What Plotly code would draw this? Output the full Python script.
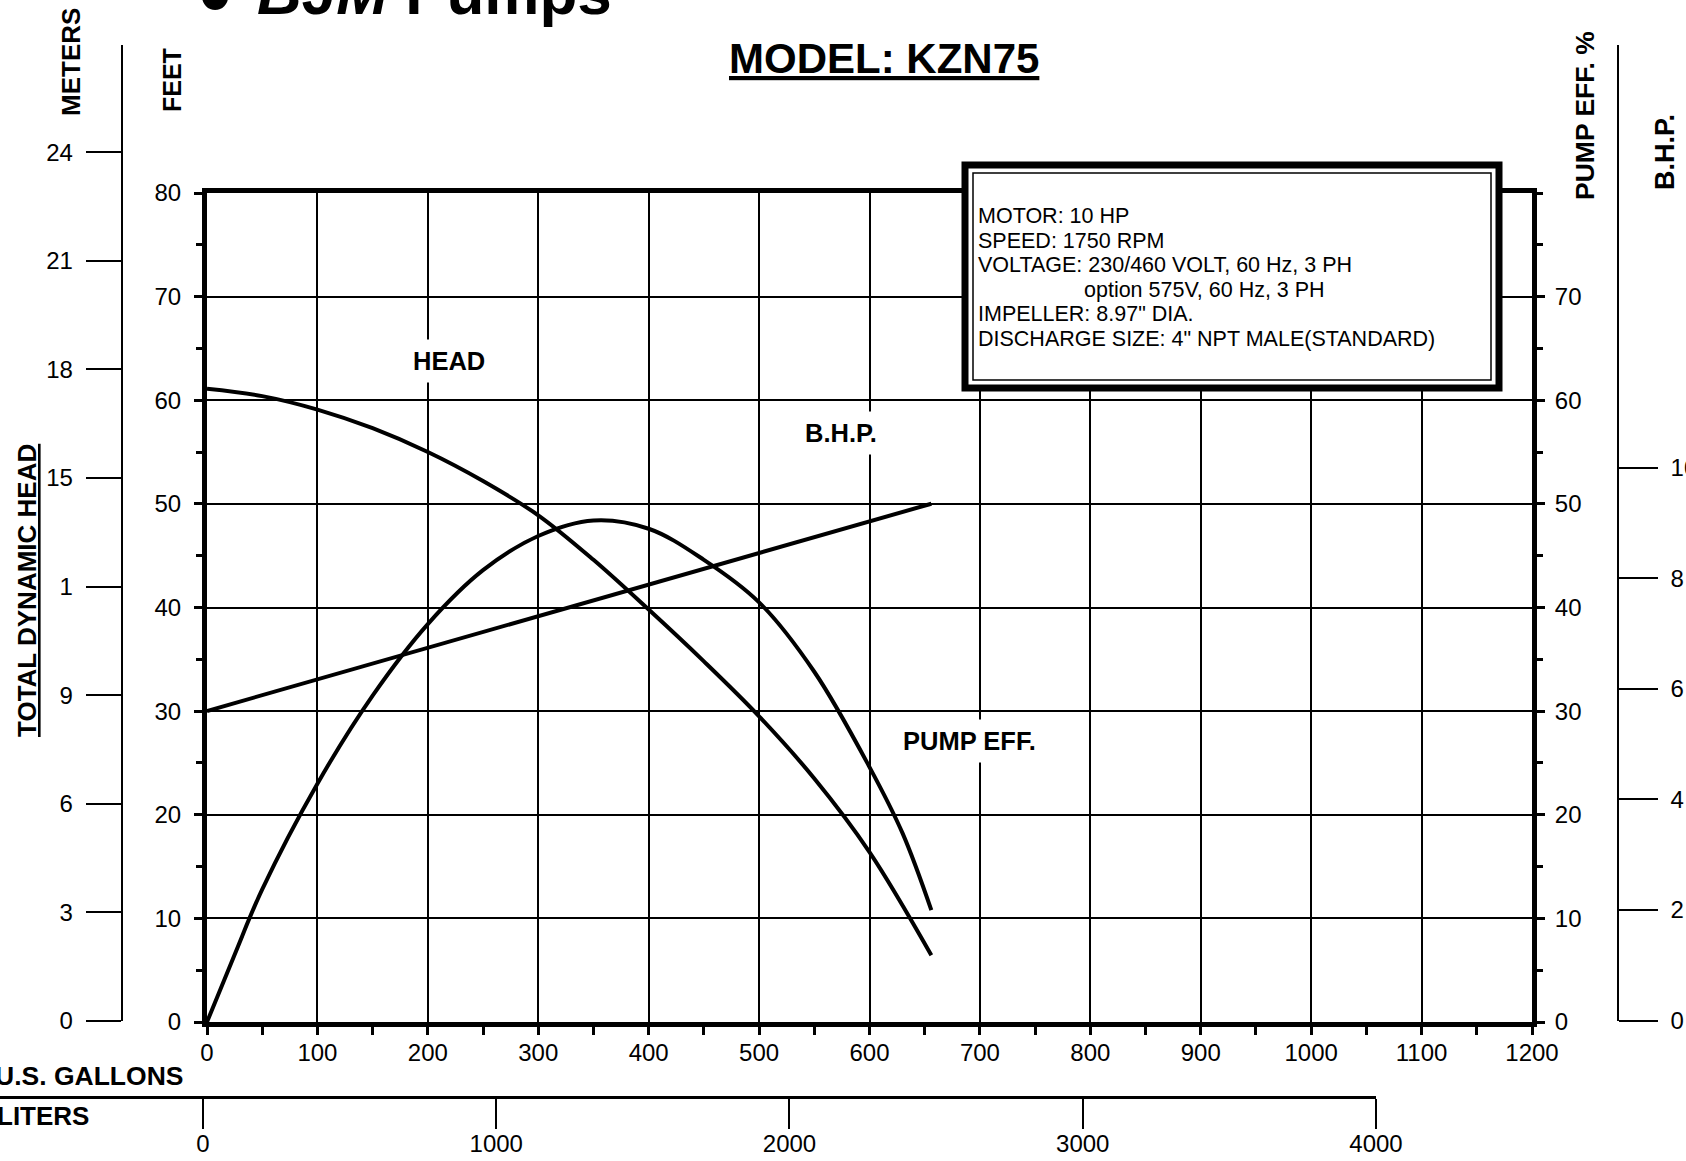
import plotly.graph_objects as go

W, H = 1686, 1161

# ---------------- data ----------------
head_gpm = [0, 50, 100, 150, 200, 250, 300, 350, 400, 450, 500, 550, 600, 656]
head_ft = [61.1, 60.4, 59.1, 57.3, 55.0, 52.2, 48.9, 44.6, 39.8, 34.8, 29.5, 23.5, 16.4, 6.45]

eff_gpm = [0, 25, 50, 100, 150, 200, 250, 300, 350, 400, 450, 500, 550, 600, 630, 656]
eff_pct = [0, 6.5, 12.8, 23.0, 31.5, 38.4, 43.6, 46.9, 48.4, 47.6, 44.6, 40.5, 33.8, 24.6, 18.2, 10.8]

bhp_gpm = [0, 656]
bhp_hp = [5.60, 9.35]

gal_ticks = list(range(0, 1201, 100))
feet_ticks = list(range(0, 81, 10))
eff_ticks = list(range(0, 71, 10))
meter_ticks = [0, 3, 6, 9, 12, 15, 18, 21, 24]
meter_labels = ["0", "3", "6", "9", "1", "15", "18", "21", "24"]
bhp_ticks = [0, 2, 4, 6, 8, 10]
bhp_labels = ["0", "2", "4", "6", "8", "10"]
liter_ticks = [0, 1000, 2000, 3000, 4000]

info_lines = [
    "MOTOR: 10 HP",
    "SPEED: 1750 RPM",
    "VOLTAGE: 230/460 VOLT, 60 Hz, 3 PH",
    "option 575V, 60 Hz, 3 PH",
    "IMPELLER: 8.97\" DIA.",
    "DISCHARGE SIZE: 4\" NPT MALE(STANDARD)",
]

# ---------------- geometry helpers (pixels -> paper) ----------------
def px(x):
    return x / W

def py(y):
    return 1 - y / H

FONT = "Arial, Liberation Sans, sans-serif"
BLACK = "black"

fig = go.Figure()

fig.add_trace(go.Scatter(x=head_gpm, y=head_ft, mode="lines", line=dict(color=BLACK, width=4, shape="spline"),
                         xaxis="x", yaxis="y", hoverinfo="skip", showlegend=False))
fig.add_trace(go.Scatter(x=eff_gpm, y=eff_pct, mode="lines", line=dict(color=BLACK, width=4, shape="spline"),
                         xaxis="x", yaxis="y2", hoverinfo="skip", showlegend=False))
fig.add_trace(go.Scatter(x=bhp_gpm, y=bhp_hp, mode="lines", line=dict(color=BLACK, width=4),
                         xaxis="x4", yaxis="y4", hoverinfo="skip", showlegend=False))
# carriers for the meters and liters scales
fig.add_trace(go.Scatter(x=[0], y=[0], mode="markers", marker=dict(opacity=0, size=1),
                         xaxis="x3", yaxis="y3", hoverinfo="skip", showlegend=False))
fig.add_trace(go.Scatter(x=[0], y=[0], mode="markers", marker=dict(opacity=0, size=1),
                         xaxis="x2", yaxis="y5", hoverinfo="skip", showlegend=False))

xdom = [px(207), px(1532)]
ydom = [py(1022), py(193)]

tickfont = dict(family=FONT, size=24, color=BLACK)

fig.update_layout(
    autosize=True,
    margin=dict(l=0, r=0, t=0, b=0, autoexpand=False),
    paper_bgcolor="white",
    plot_bgcolor="rgba(0,0,0,0)",
    showlegend=False,
    font=dict(family=FONT, color=BLACK),
    xaxis=dict(
        domain=xdom, range=[0, 1200], anchor="y",
        tickvals=gal_ticks, showgrid=True, gridcolor=BLACK, gridwidth=2,
        showline=True, linewidth=5, linecolor=BLACK, mirror=True,
        ticks="outside", ticklen=8, tickwidth=3, tickcolor=BLACK,
        minor=dict(dtick=50, ticks="outside", ticklen=8, tickwidth=3, tickcolor=BLACK, showgrid=False),
        tickfont=tickfont, ticklabelstandoff=-3, zeroline=False, fixedrange=True,
    ),
    yaxis=dict(
        domain=ydom, range=[0, 80], anchor="x",
        tickvals=feet_ticks, showgrid=True, gridcolor=BLACK, gridwidth=2,
        showline=True, linewidth=5, linecolor=BLACK, mirror=True,
        ticks="outside", ticklen=8, tickwidth=3, tickcolor=BLACK,
        minor=dict(dtick=5, ticks="outside", ticklen=6, tickwidth=3, tickcolor=BLACK, showgrid=False),
        tickfont=tickfont, ticklabelstandoff=8, zeroline=False, fixedrange=True,
    ),
    yaxis2=dict(
        overlaying="y", side="right", anchor="x", range=[0, 80],
        tickvals=eff_ticks, showgrid=False,
        showline=True, linewidth=5, linecolor=BLACK,
        ticks="outside", ticklen=8, tickwidth=3, tickcolor=BLACK,
        minor=dict(dtick=5, ticks="outside", ticklen=6, tickwidth=3, tickcolor=BLACK, showgrid=False),
        tickfont=tickfont, ticklabelstandoff=5, zeroline=False, fixedrange=True,
    ),
    xaxis3=dict(domain=[0, 0.02], visible=False, range=[0, 1], anchor="y3", fixedrange=True),
    yaxis3=dict(
        domain=[py(1021), py(45)], range=[0, (1021 - 45) / 36.2],
        anchor="free", position=px(121.5), side="left",
        tickvals=meter_ticks, ticktext=meter_labels, showgrid=False,
        showline=True, linewidth=1.5, linecolor=BLACK,
        ticks="outside", ticklen=35, tickwidth=1.5, tickcolor=BLACK,
        tickfont=tickfont, ticklabelstandoff=8, zeroline=False, fixedrange=True,
    ),
    xaxis4=dict(domain=xdom, range=[0, 1200], visible=False, anchor="y4", fixedrange=True),
    yaxis4=dict(
        domain=[py(1020.5), py(45)], range=[0, (1020.5 - 45) / 55.27],
        anchor="free", position=px(1618), side="right",
        tickvals=bhp_ticks, ticktext=bhp_labels, showgrid=False,
        showline=True, linewidth=1.5, linecolor=BLACK,
        ticks="outside", ticklen=39, tickwidth=1.5, tickcolor=BLACK,
        tickfont=tickfont, ticklabelstandoff=8, zeroline=False, fixedrange=True,
    ),
    xaxis2=dict(
        domain=[0, px(1376)], range=[-692.2, 4000],
        anchor="free", position=py(1097), side="bottom",
        tickvals=liter_ticks, showgrid=False,
        showline=True, linewidth=2.5, linecolor=BLACK,
        ticks="outside", ticklen=30, tickwidth=1.5, tickcolor=BLACK,
        tickfont=tickfont, ticklabelstandoff=-6, zeroline=False, fixedrange=True,
    ),
    yaxis5=dict(domain=[0, 0.02], visible=False, range=[0, 1], anchor="x2", fixedrange=True),
)

# ---------------- info box ----------------
fig.add_shape(type="rect", xref="paper", yref="paper",
              x0=px(965), x1=px(1499), y0=py(388), y1=py(165),
              line=dict(color=BLACK, width=7), fillcolor="white", layer="above")
fig.add_shape(type="rect", xref="paper", yref="paper",
              x0=px(973), x1=px(1491), y0=py(380), y1=py(173),
              line=dict(color=BLACK, width=1.5), fillcolor="rgba(0,0,0,0)", layer="above")

info_y = [216, 241, 265, 290, 314, 339]
info_x = [976, 976, 976, 1082, 976, 976]
for txt, xx, yy in zip(info_lines, info_x, info_y):
    fig.add_annotation(text=txt, xref="paper", yref="paper", x=px(xx), y=py(yy),
                       xanchor="left", yanchor="middle", showarrow=False,
                       font=dict(family=FONT, size=21.5, color=BLACK))

# ---------------- curve labels ----------------
def curve_label(text, gx, fy):
    fig.add_annotation(text="<b>%s</b>" % text, xref="x", yref="y", x=gx, y=fy,
                       showarrow=False, bgcolor="white", borderpad=7,
                       font=dict(family=FONT, size=25.5, color=BLACK))

curve_label("HEAD", 219, 63.8)
curve_label("B.H.P.", 574, 56.8)
curve_label("PUMP EFF.", 691, 27.1)

# ---------------- titles ----------------
def ptext(text, x, y, size, angle=0, xanchor="center", yanchor="middle", bold=True):
    fig.add_annotation(text=("<b>%s</b>" % text) if bold else text, xref="paper", yref="paper",
                       x=px(x), y=py(y), xanchor=xanchor, yanchor=yanchor, showarrow=False,
                       textangle=angle, font=dict(family=FONT, size=size, color=BLACK))

ptext("<u>MODEL: KZN75</u>", 884, 59, 42)
ptext("METERS", 71, 62, 26, angle=-90)
ptext("FEET", 172, 80, 25, angle=-90)
ptext("<u>TOTAL DYNAMIC HEAD</u>", 27, 591, 26, angle=-90)
ptext("PUMP EFF. %", 1585, 116, 26.5, angle=-90)
ptext("B.H.P.", 1665, 152, 27, angle=-90)
ptext("U.S. GALLONS", 185, 1076, 26.5, xanchor="right")
ptext("LITERS", 91, 1116, 26, xanchor="right")

# logo (cut at the top edge of the page)
ptext("\u25cf", 215, 29, 60, yanchor="bottom")
ptext("<i>BJM</i> Pumps", 255, 29, 62, xanchor="left", yanchor="bottom")

fig.write_html(
    "out.html",
    default_width="100vw",
    default_height="100vh",
    config={"displayModeBar": False, "responsive": True},
    post_script="document.body.style.margin='0';document.body.style.padding='0';"
                "document.documentElement.style.overflow='hidden';document.body.style.overflow='hidden';",
)
